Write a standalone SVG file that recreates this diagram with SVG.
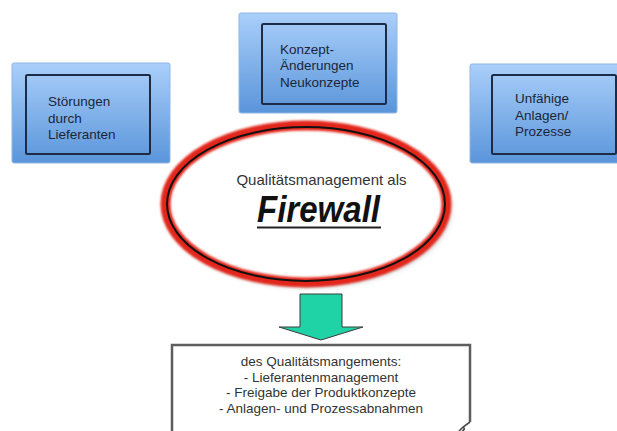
<svg xmlns="http://www.w3.org/2000/svg" width="617" height="431" viewBox="0 0 617 431">
  <defs>
    <linearGradient id="blueGrad" x1="0" y1="0" x2="0" y2="1">
      <stop offset="0" stop-color="#aacffa"/>
      <stop offset="1" stop-color="#5a95da"/>
    </linearGradient>
    <filter id="blur1" x="-10%" y="-10%" width="120%" height="120%">
      <feGaussianBlur stdDeviation="1.2"/>
    </filter>
    <filter id="shadow" x="-20%" y="-20%" width="140%" height="140%">
      <feGaussianBlur stdDeviation="3"/>
    </filter>
  </defs>
  <style>
    .outer { fill: url(#blueGrad); stroke: #8fb6e6; stroke-width: 1; }
    .inner { fill: none; stroke: #1d2c44; stroke-width: 2; }
    .boxtxt { font-family: "Liberation Sans", Arial, sans-serif; font-size: 13.5px; fill: #1a2638; }
    .midtxt { font-family: "Liberation Sans", Arial, sans-serif; font-size: 15px; fill: #333333; text-anchor: middle; }
    .fw { font-family: "Liberation Sans", Arial, sans-serif; font-size: 36px; font-weight: bold; font-style: italic; fill: #111111; }
    .bottxt { font-family: "Liberation Sans", Arial, sans-serif; font-size: 13.5px; fill: #333333; text-anchor: middle; }
  </style>
  <rect width="617" height="431" fill="#ffffff"/>

  <g id="node-stoerungen">
    <rect class="outer" x="12" y="63" width="158" height="100" rx="2"/>
    <rect class="inner" x="26" y="75" width="124" height="79" rx="1.5"/>
    <text class="boxtxt" x="48" y="106">Störungen</text>
    <text class="boxtxt" x="48" y="122.5">durch</text>
    <text class="boxtxt" x="48" y="139">Lieferanten</text>
  </g>

  <g id="node-konzept">
    <rect class="outer" x="239" y="13" width="158" height="100" rx="2"/>
    <rect class="inner" x="262" y="24" width="124" height="80" rx="1.5"/>
    <text class="boxtxt" x="280" y="53.5">Konzept-</text>
    <text class="boxtxt" x="280" y="70">Änderungen</text>
    <text class="boxtxt" x="280" y="86.5">Neukonzepte</text>
  </g>

  <g id="node-anlagen">
    <rect class="outer" x="470" y="64" width="158" height="99" rx="2"/>
    <rect class="inner" x="492" y="75" width="124" height="79" rx="1.5"/>
    <text class="boxtxt" x="515" y="103">Unfähige</text>
    <text class="boxtxt" x="515" y="119.5">Anlagen/</text>
    <text class="boxtxt" x="515" y="136">Prozesse</text>
  </g>

  <g id="node-firewall">
    <ellipse cx="309" cy="208" rx="141" ry="78" fill="#555555" opacity="0.45" filter="url(#shadow)"/>
    <ellipse cx="306" cy="204" rx="139" ry="77" fill="#ffffff"/>
    <ellipse cx="306" cy="204" rx="140.5" ry="78.5" fill="none" stroke="#e3261a" stroke-width="10" filter="url(#blur1)"/>
    <ellipse cx="306" cy="204" rx="139" ry="77" fill="none" stroke="#111111" stroke-width="2"/>
    <text class="midtxt" x="321.5" y="185">Qualitätsmanagement als</text>
    <text class="fw" x="257" y="222" textLength="123" lengthAdjust="spacingAndGlyphs">Firewall</text>
    <rect x="257" y="226.5" width="124" height="2" fill="#222222"/>
  </g>

  <g id="connectors">
    <path d="M300 294 L342 294 L342 327 L363 327 L321 340 L279 327 L300 327 Z" fill="#1fd3a6" stroke="#3b3b3b" stroke-width="1" stroke-linejoin="round"/>
  </g>

  <g id="node-massnahmen">
    <path d="M172 431 L172 345 L470 345 L470 422" fill="#ffffff" stroke="#5e5e5e" stroke-width="2.5"/>
    <path d="M470 422 L463 427 L459 431 M463 427 Q466 429 462 431" fill="none" stroke="#4a4a4a" stroke-width="1.6"/>
    <text class="bottxt" x="321" y="366">des Qualitätsmangements:</text>
    <text class="bottxt" x="321" y="381.5">- Lieferantenmanagement</text>
    <text class="bottxt" x="321" y="397">- Freigabe der Produktkonzepte</text>
    <text class="bottxt" x="321" y="412.5">- Anlagen- und Prozessabnahmen</text>
  </g>
</svg>
